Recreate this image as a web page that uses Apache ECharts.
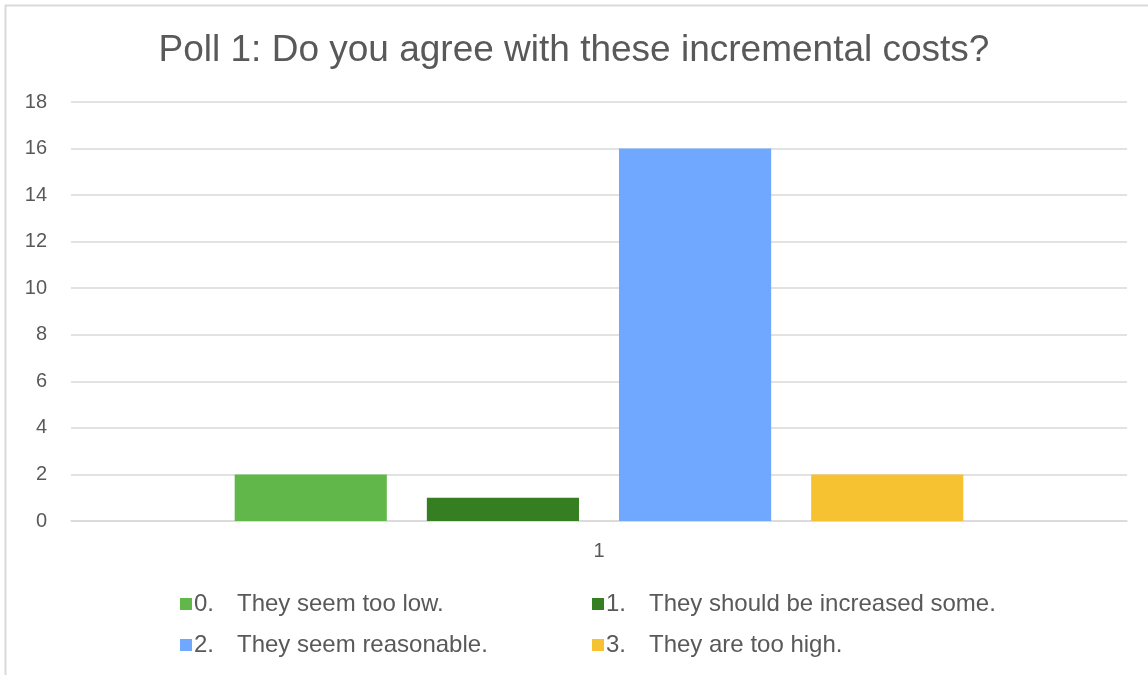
<!DOCTYPE html>
<html>
<head>
<meta charset="utf-8">
<script src="https://cdn.jsdelivr.net/npm/echarts@6/dist/echarts.min.js"></script>
<style>
html,body{margin:0;padding:0;background:#fff;}
#chart{width:1148px;height:675px;}
</style>
</head>
<body>
<div id="chart"></div>
<script>
const categories = ['1'];
const seriesNames = ['0.', '1.', '2.', '3.'];
const seriesLabels = ['They seem too low.', 'They should be increased some.', 'They seem reasonable.', 'They are too high.'];
const seriesValues = [[2], [1], [16], [2]];
const seriesColors = ['#62b74b', '#367e22', '#70a8ff', '#f6c232'];
const yTicks = { min: 0, max: 18, interval: 2 };

const font = 'Liberation Sans, Arial, sans-serif';
const chart = echarts.init(document.getElementById('chart'), null, { renderer: 'canvas' });

const legendPos = [
  { left: 180, top: 592 },
  { left: 592, top: 592 },
  { left: 180, top: 633 },
  { left: 592, top: 633 }
];

const option = {
  animation: false,
  backgroundColor: '#ffffff',
  textStyle: { fontFamily: font },
  graphic: [{
    type: 'rect',
    shape: { x: 5.5, y: 5.5, width: 1300, height: 800 },
    style: { fill: 'none', stroke: '#d9d9d9', lineWidth: 2 },
    silent: true
  }],
  title: {
    text: 'Poll 1: Do you agree with these incremental costs?',
    left: 'center',
    top: 27,
    textStyle: { fontFamily: font, fontSize: 37, fontWeight: 'normal', color: '#595959' }
  },
  legend: seriesNames.map((n, i) => ({
    data: [n],
    left: legendPos[i].left,
    top: legendPos[i].top,
    padding: 0,
    icon: 'rect',
    itemWidth: 12,
    itemHeight: 12,
    itemGap: 0,
    formatter: (name) => '{n|' + name + '}{t|' + seriesLabels[seriesNames.indexOf(name)] + '}',
    textStyle: {
      color: '#595959',
      fontFamily: font,
      fontSize: 24,
      padding: [0, 0, 0, -3],
      rich: {
        n: { width: 43, fontSize: 24, color: '#595959', fontFamily: font },
        t: { fontSize: 24, color: '#595959', fontFamily: font }
      }
    }
  })),
  grid: { left: 71, right: 21, top: 102, bottom: 154, containLabel: false },
  xAxis: {
    type: 'category',
    data: categories,
    axisLine: { show: true, lineStyle: { color: '#d9d9d9', width: 1.5 } },
    axisTick: { show: false },
    axisLabel: { color: '#595959', fontSize: 20, fontFamily: font, margin: 20 }
  },
  yAxis: {
    type: 'value',
    min: yTicks.min,
    max: yTicks.max,
    interval: yTicks.interval,
    axisLine: { show: false },
    axisTick: { show: false },
    splitLine: { lineStyle: { color: '#d9d9d9', width: 1.5 } },
    axisLabel: { color: '#595959', fontSize: 20, fontFamily: font, margin: 24 }
  },
  series: seriesNames.map((n, i) => ({
    name: n,
    type: 'bar',
    data: seriesValues[i],
    itemStyle: { color: seriesColors[i] },
    barGap: '26.3%',
    barCategoryGap: '31%'
  }))
};
chart.setOption(option);
</script>
</body>
</html>
